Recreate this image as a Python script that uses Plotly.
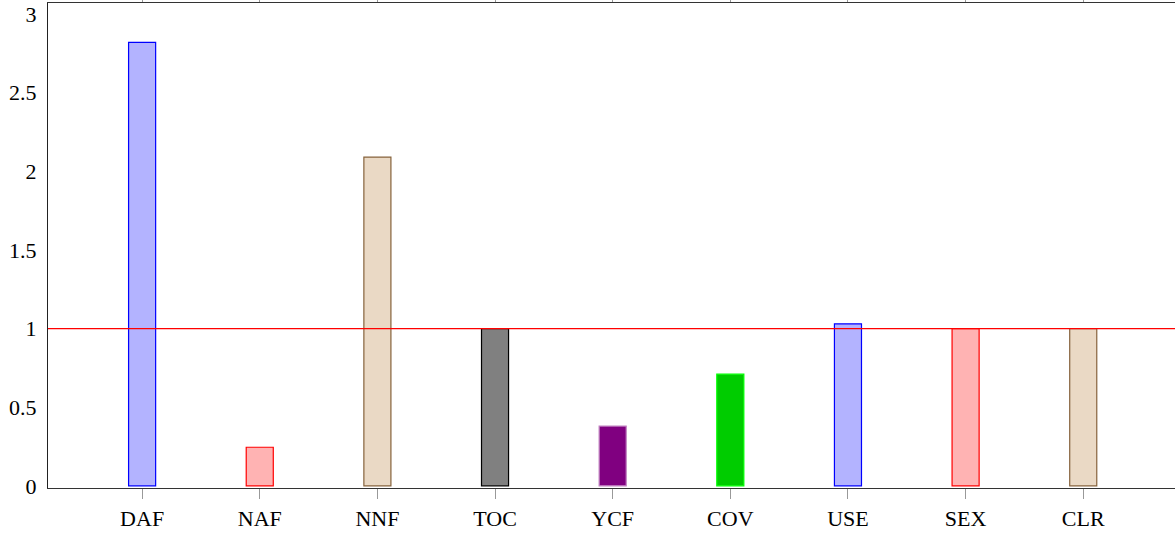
import plotly.graph_objects as go

categories = ['DAF', 'NAF', 'NNF', 'TOC', 'YCF', 'COV', 'USE', 'SEX', 'CLR']
values = [2.82, 0.245, 2.09, 1.0, 0.38, 0.71, 1.03, 1.0, 1.0]
fill_colors = ['#b3b3ff', '#ffb3b3', '#ead9c5', '#808080', '#800080',
               '#00cc00', '#b3b3ff', '#ffb3b3', '#ead9c5']
edge_colors = ['#0000ff', '#ff0000', '#86633d', '#000000', '#c080c0',
               '#00ff00', '#0000ff', '#ff0000', '#86633d']
y_ticks = [0, 0.5, 1, 1.5, 2, 2.5, 3]
y_tick_labels = ['0', '0.5', '1', '1.5', '2', '2.5', '3']
reference_level = 1

serif = 'Liberation Serif, Times New Roman, serif'

fig = go.Figure(go.Bar(
    x=categories,
    y=values,
    width=0.23,
    marker=dict(color=fill_colors, line=dict(color=edge_colors, width=1.2)),
    showlegend=False
))

# linea de referencia en y = 1
fig.add_hline(y=reference_level, line=dict(color='#ff0000', width=1.3))

fig.update_layout(
    width=1175,
    height=536,
    paper_bgcolor='white',
    plot_bgcolor='white',
    font=dict(family=serif, size=22, color='black'),
    margin=dict(l=48, r=0, t=3, b=48, autoexpand=False),
    xaxis=dict(
        range=[-0.8, 8.78],
        automargin=False,
        showline=True,
        linecolor='#333333',
        linewidth=1.3,
        mirror='ticks',
        ticks='outside',
        ticklen=10,
        tickcolor='#999999',
        tickwidth=1.3,
        showgrid=False,
        zeroline=False,
        tickfont=dict(family=serif, size=22),
    ),
    yaxis=dict(
        range=[-0.014, 3.07],
        automargin=False,
        tickvals=y_ticks,
        ticktext=y_tick_labels,
        showline=True,
        linecolor='#222222',
        linewidth=1.3,
        ticks='',
        showgrid=False,
        zeroline=False,
        ticklabelstandoff=6,
        tickfont=dict(family=serif, size=22),
    ),
)

# quitar el margen por defecto del body
fig.write_html("out.html", config={'displayModeBar': False},
               post_script="document.body.style.margin='0';")
